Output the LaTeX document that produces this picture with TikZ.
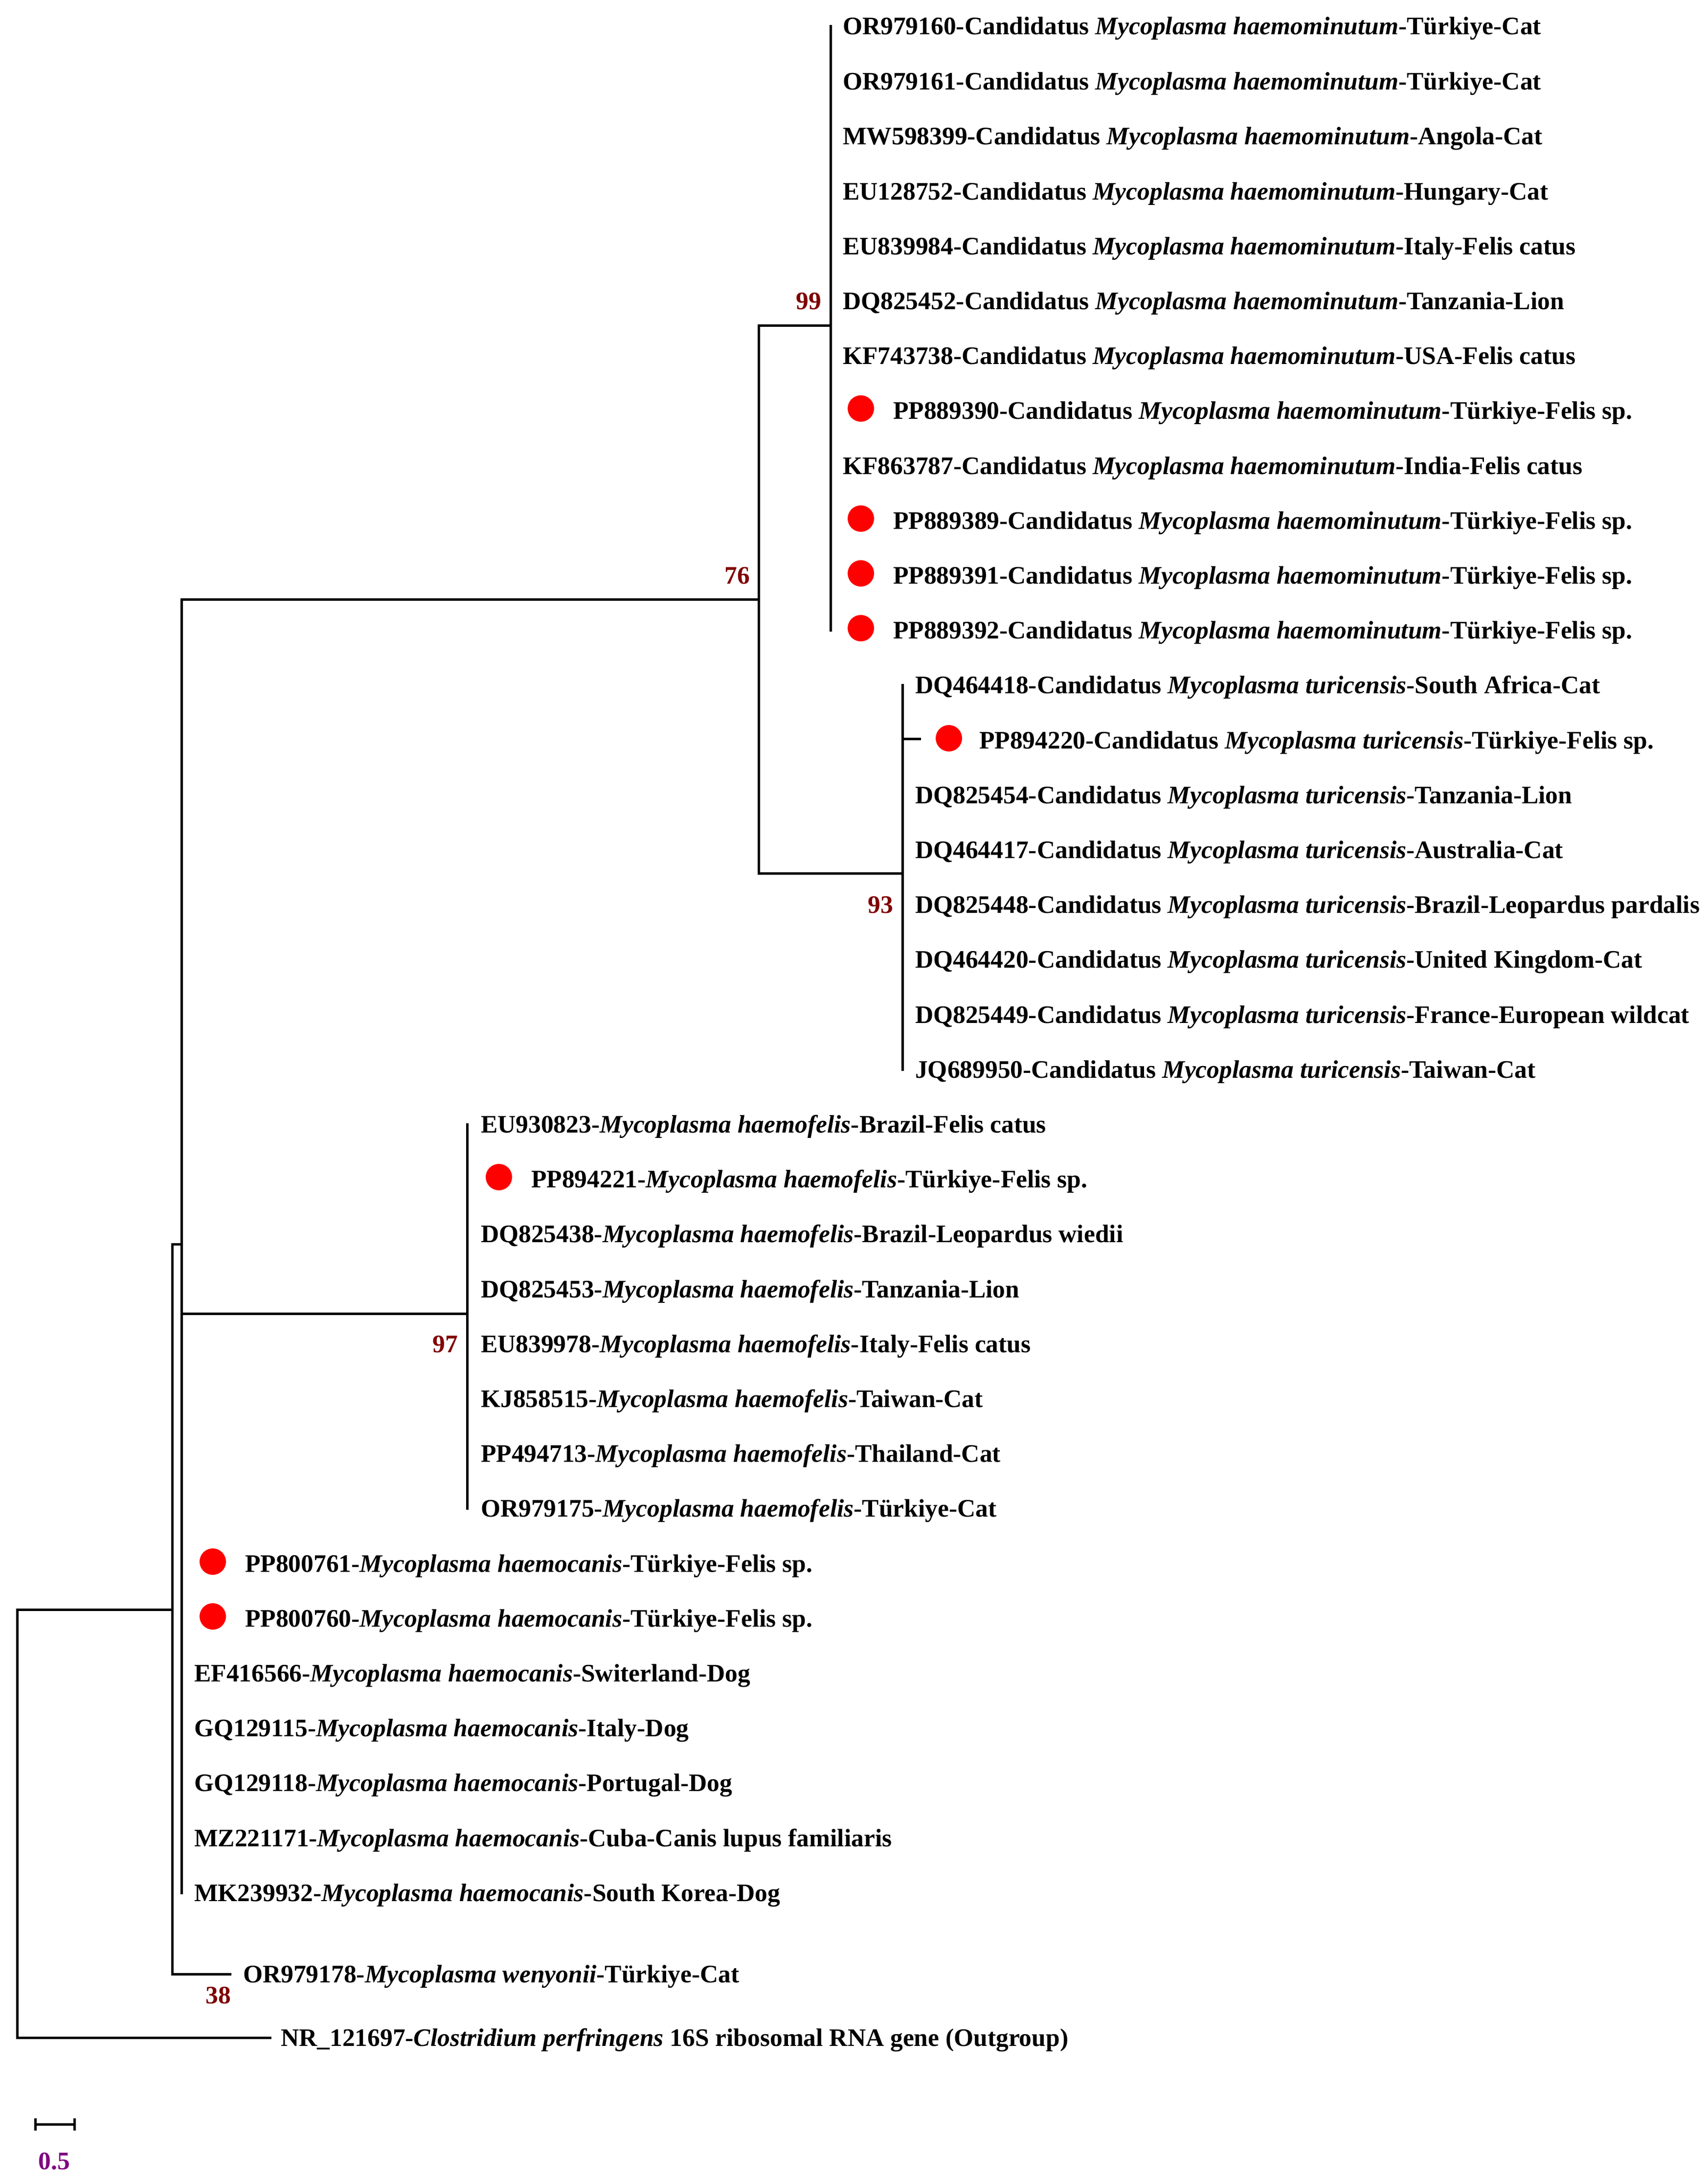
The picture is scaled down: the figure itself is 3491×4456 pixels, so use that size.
\documentclass[tikz,border=0pt]{standalone}
\usepackage{fontspec}
\setmainfont{Liberation Serif}
\definecolor{bootc}{RGB}{128,0,0}
\definecolor{scalec}{RGB}{128,0,128}
\definecolor{dotred}{RGB}{255,0,0}
\newcommand{\sname}[1]{\textit{#1}}
\begin{document}
\begin{tikzpicture}[x=1pt,y=-1pt,
  branch/.style={line width=5pt,line cap=rect,black},
  leaf/.style={anchor=base west,inner sep=0pt,font=\fontsize{51.5}{60}\selectfont\bfseries},
  boot/.style={anchor=base east,inner sep=0pt,text=bootc,font=\fontsize{51.5}{60}\selectfont\bfseries},
  dotnode/.style={circle,fill=dotred,inner sep=0pt,minimum size=54pt},
  scalelbl/.style={anchor=base,inner sep=0pt,text=scalec,font=\fontsize{51.5}{60}\selectfont\bfseries}]
\useasboundingbox (0,0) rectangle (3491,4456);

% ---------- coordinates of tree ----------
\coordinate (rT) at (35,3290);   \coordinate (rB) at (35,4165);
\coordinate (tNR) at (552,4165); \coordinate (aH) at (352,3290);
\coordinate (aT) at (352,2543);  \coordinate (aB) at (352,4035);
\coordinate (tW) at (470,4035);  \coordinate (bH) at (371,2543);
\coordinate (bT) at (371,1225);  \coordinate (bB) at (371,3869);
\coordinate (c76) at (1551,1225);
\coordinate (b97) at (371,2685); \coordinate (c97) at (955,2685);
\coordinate (c97T) at (955,2298); \coordinate (c97B) at (955,3083);
\coordinate (c76T) at (1551,665); \coordinate (c76B) at (1551,1785);
\coordinate (c99) at (1698,665);
\coordinate (c99T) at (1698,54);  \coordinate (c99B) at (1698,1288);
\coordinate (c93) at (1845,1785);
\coordinate (c93T) at (1845,1400); \coordinate (c93B) at (1845,2186);
\coordinate (c93P) at (1845,1510); \coordinate (tP20) at (1880,1510);

% ---------- branches ----------
\draw[branch] (rT) -- (rB);
\draw[branch] (rB) -- (tNR);
\draw[branch] (rT) -- (aH);
\draw[branch] (aT) -- (aB);
\draw[branch] (aB) -- (tW);
\draw[branch] (aT) -- (bH);
\draw[branch] (bT) -- (bB);
\draw[branch] (bT) -- (c76);
\draw[branch] (b97) -- (c97);
\draw[branch] (c97T) -- (c97B);
\draw[branch] (c76T) -- (c76B);
\draw[branch] (c76T) -- (c99);
\draw[branch] (c76B) -- (c93);
\draw[branch] (c99T) -- (c99B);
\draw[branch] (c93T) -- (c93B);
\draw[branch] (c93P) -- (tP20);

% ---------- bootstrap values ----------
\node[boot] (b99) at (1679,632) {99};
\node[boot] (b76) at (1533,1193) {76};
\node[boot] (b93) at (1826,1866) {93};
\node[boot] (bb97) at (936,2764) {97};
\node[boot,anchor=base] (b38) at (446,4095) {38};

% ---------- Candidatus M. haemominutum ----------
\node[leaf] (L1) at (1723,71) {OR979160-Candidatus \sname{Mycoplasma haemominutum}-Türkiye-Cat};
\node[leaf] (L2) at (1723,183) {OR979161-Candidatus \sname{Mycoplasma haemominutum}-Türkiye-Cat};
\node[leaf] (L3) at (1723,295) {MW598399-Candidatus \sname{Mycoplasma haemominutum}-Angola-Cat};
\node[leaf] (L4) at (1723,408) {EU128752-Candidatus \sname{Mycoplasma haemominutum}-Hungary-Cat};
\node[leaf] (L5) at (1723,520) {EU839984-Candidatus \sname{Mycoplasma haemominutum}-Italy-Felis catus};
\node[leaf] (L6) at (1723,632) {DQ825452-Candidatus \sname{Mycoplasma haemominutum}-Tanzania-Lion};
\node[leaf] (L7) at (1723,744) {KF743738-Candidatus \sname{Mycoplasma haemominutum}-USA-Felis catus};
\node[dotnode] (D8) at (1760,835) {};
\node[leaf] (L8) at (1826,856) {PP889390-Candidatus \sname{Mycoplasma haemominutum}-Türkiye-Felis sp.};
\node[leaf] (L9) at (1723,969) {KF863787-Candidatus \sname{Mycoplasma haemominutum}-India-Felis catus};
\node[dotnode] (D10) at (1760,1060) {};
\node[leaf] (L10) at (1826,1081) {PP889389-Candidatus \sname{Mycoplasma haemominutum}-Türkiye-Felis sp.};
\node[dotnode] (D11) at (1760,1172) {};
\node[leaf] (L11) at (1826,1193) {PP889391-Candidatus \sname{Mycoplasma haemominutum}-Türkiye-Felis sp.};
\node[dotnode] (D12) at (1760,1284) {};
\node[leaf] (L12) at (1826,1305) {PP889392-Candidatus \sname{Mycoplasma haemominutum}-Türkiye-Felis sp.};

% ---------- Candidatus M. turicensis ----------
\node[leaf] (L13) at (1871,1417) {DQ464418-Candidatus \sname{Mycoplasma turicensis}-South Africa-Cat};
\node[dotnode] (D14) at (1940,1509) {};
\node[leaf] (L14) at (2002,1530) {PP894220-Candidatus \sname{Mycoplasma turicensis}-Türkiye-Felis sp.};
\node[leaf] (L15) at (1871,1642) {DQ825454-Candidatus \sname{Mycoplasma turicensis}-Tanzania-Lion};
\node[leaf] (L16) at (1871,1754) {DQ464417-Candidatus \sname{Mycoplasma turicensis}-Australia-Cat};
\node[leaf] (L17) at (1871,1866) {DQ825448-Candidatus \sname{Mycoplasma turicensis}-Brazil-Leopardus pardalis};
\node[leaf] (L18) at (1871,1978) {DQ464420-Candidatus \sname{Mycoplasma turicensis}-United Kingdom-Cat};
\node[leaf] (L19) at (1871,2091) {DQ825449-Candidatus \sname{Mycoplasma turicensis}-France-European wildcat};
\node[leaf] (L20) at (1871,2203) {JQ689950-Candidatus \sname{Mycoplasma turicensis}-Taiwan-Cat};

% ---------- M. haemofelis ----------
\node[leaf] (L21) at (983,2315) {EU930823-\sname{Mycoplasma haemofelis}-Brazil-Felis catus};
\node[dotnode] (D22) at (1020,2406) {};
\node[leaf] (L22) at (1086,2427) {PP894221-\sname{Mycoplasma haemofelis}-Türkiye-Felis sp.};
\node[leaf] (L23) at (983,2539) {DQ825438-\sname{Mycoplasma haemofelis}-Brazil-Leopardus wiedii};
\node[leaf] (L24) at (983,2652) {DQ825453-\sname{Mycoplasma haemofelis}-Tanzania-Lion};
\node[leaf] (L25) at (983,2764) {EU839978-\sname{Mycoplasma haemofelis}-Italy-Felis catus};
\node[leaf] (L26) at (983,2876) {KJ858515-\sname{Mycoplasma haemofelis}-Taiwan-Cat};
\node[leaf] (L27) at (983,2988) {PP494713-\sname{Mycoplasma haemofelis}-Thailand-Cat};
\node[leaf] (L28) at (983,3100) {OR979175-\sname{Mycoplasma haemofelis}-Türkiye-Cat};

% ---------- M. haemocanis ----------
\node[dotnode] (D29) at (435,3192) {};
\node[leaf] (L29) at (501,3213) {PP800761-\sname{Mycoplasma haemocanis}-Türkiye-Felis sp.};
\node[dotnode] (D30) at (435,3304) {};
\node[leaf] (L30) at (501,3325) {PP800760-\sname{Mycoplasma haemocanis}-Türkiye-Felis sp.};
\node[leaf] (L31) at (397,3437) {EF416566-\sname{Mycoplasma haemocanis}-Switerland-Dog};
\node[leaf] (L32) at (397,3549) {GQ129115-\sname{Mycoplasma haemocanis}-Italy-Dog};
\node[leaf] (L33) at (397,3661) {GQ129118-\sname{Mycoplasma haemocanis}-Portugal-Dog};
\node[leaf] (L34) at (397,3774) {MZ221171-\sname{Mycoplasma haemocanis}-Cuba-Canis lupus familiaris};
\node[leaf] (L35) at (397,3886) {MK239932-\sname{Mycoplasma haemocanis}-South Korea-Dog};

% ---------- M. wenyonii and outgroup ----------
\node[leaf] (LW) at (497,4052) {OR979178-\sname{Mycoplasma wenyonii}-Türkiye-Cat};
\node[leaf] (LNR) at (574,4182) {NR\_121697-\sname{Clostridium perfringens} 16S ribosomal RNA gene (Outgroup)};

% ---------- scale bar ----------
\coordinate (sbL) at (72,4342); \coordinate (sbR) at (152,4342);
\draw[branch,line cap=butt] (sbL) -- (sbR);
\draw[branch,line cap=butt] ([yshift=12.5pt]sbL) -- ([yshift=-12.5pt]sbL);
\draw[branch,line cap=butt] ([yshift=12.5pt]sbR) -- ([yshift=-12.5pt]sbR);
\node[scalelbl] (sbT) at (111,4434) {0.5};
\end{tikzpicture}
\end{document}
